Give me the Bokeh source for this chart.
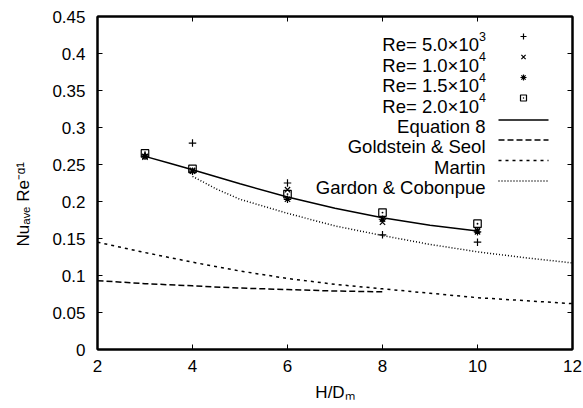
from bokeh.plotting import figure
from bokeh.models import Label, LinearAxis, FixedTicker, Range1d
from bokeh.embed import file_html
from bokeh.resources import INLINE

# ---------------- data ----------------
h_d = [3, 4, 6, 8, 10]
re_5000 = [0.263, 0.279, 0.225, 0.155, 0.145]
re_10000 = [0.260, 0.242, 0.216, 0.172, 0.161]
re_15000 = [0.261, 0.241, 0.203, 0.176, 0.159]
re_20000 = [0.265, 0.244, 0.210, 0.185, 0.170]

eq8_x = [3, 3.5, 4, 5, 6, 7, 8, 9, 10]
eq8_y = [0.261, 0.252, 0.243, 0.224, 0.206, 0.191, 0.178, 0.168, 0.160]

goldstein_x = [2, 3, 4, 5, 6, 7, 8]
goldstein_y = [0.093, 0.089, 0.086, 0.083, 0.081, 0.079, 0.078]

martin_x = [2, 3, 4, 5, 6, 7, 8, 9, 10, 11, 12]
martin_y = [0.145, 0.131, 0.118, 0.106, 0.096, 0.088, 0.082, 0.076, 0.070, 0.066, 0.062]

gardon_x = [4, 4.5, 5, 6, 7, 8, 9, 10, 11, 12]
gardon_y = [0.234, 0.217, 0.203, 0.184, 0.167, 0.154, 0.142, 0.132, 0.124, 0.117]

x_ticks = [2, 4, 6, 8, 10, 12]
y_ticks = [0, 0.05, 0.1, 0.15, 0.2, 0.25, 0.3, 0.35, 0.4, 0.45]
y_tick_labels = ["0", "0.05", "0.1", "0.15", "0.2", "0.25", "0.3", "0.35", "0.4", "0.45"]

marker_labels = ["Re= 5.0\u00d710", "Re= 1.0\u00d710", "Re= 1.5\u00d710", "Re= 2.0\u00d710"]
marker_sups = ["3", "4", "4", "4"]
line_labels = ["Equation 8", "Goldstein & Seol", "Martin", "Gardon & Cobonpue"]

x_title = "H/D\u2098"
y_title = "Nu\u2090\u1d65\u2091 Re\u207b\u1d45\u00b9"

FONT = "Liberation Sans"

# ---------------- layout (page pixels) ----------------
W, H = 583, 408
FL, FR, FT, FB = 97, 572, 16, 349
X0, X1, Y0, Y1 = 2, 12, 0, 0.45


def dx(px):
    return X0 + (px - FL) * (X1 - X0) / (FR - FL)


def dy(py):
    return Y0 + (FB - py) * (Y1 - Y0) / (FB - FT)


def sx(px):
    return px - FL


def sy(py):
    return FB - py


p = figure(width=W, height=H, x_range=Range1d(X0, X1), y_range=Range1d(Y0, Y1),
           output_backend="svg", toolbar_location=None,
           min_border_left=FL, min_border_right=W - FR,
           min_border_top=FT, min_border_bottom=H - FB)
p.xgrid.visible = False
p.ygrid.visible = False
p.background_fill_color = "white"
p.border_fill_color = "white"
p.outline_line_color = "black"
p.outline_line_width = 2

for ax in (p.xaxis[0], p.yaxis[0]):
    ax.major_tick_in = 5
    ax.major_tick_out = 0
    ax.minor_tick_in = 0
    ax.minor_tick_out = 0
    ax.axis_line_width = 2
    ax.major_tick_line_width = 1
    ax.major_label_text_font = FONT
    ax.major_label_text_font_size = "17px"
    ax.major_label_text_color = "black"
    ax.axis_label_text_font = FONT
    ax.axis_label_text_font_size = "17px"
    ax.axis_label_text_font_style = "normal"
    ax.axis_label_text_color = "black"

p.xaxis[0].ticker = FixedTicker(ticks=x_ticks)
p.yaxis[0].ticker = FixedTicker(ticks=y_ticks)
p.yaxis[0].major_label_overrides = {t: l for t, l in zip(y_ticks, y_tick_labels)}
p.xaxis[0].major_label_standoff = 10
p.yaxis[0].major_label_standoff = 12

p.xaxis[0].axis_label = x_title
p.xaxis[0].axis_label_standoff = 8
# trailing no-break spaces move the centred title down along the axis
p.yaxis[0].axis_label = y_title + "\u00a0" * 9
p.yaxis[0].axis_label_standoff = 16

for loc, ticks in (("above", x_ticks), ("right", y_ticks)):
    ax = LinearAxis(ticker=FixedTicker(ticks=ticks),
                    major_label_overrides={t: "" for t in ticks},
                    major_label_text_font_size="1px",
                    major_label_standoff=0, major_tick_in=5, major_tick_out=0,
                    minor_tick_in=0, minor_tick_out=0, axis_line_width=2)
    p.add_layout(ax, loc)

# ---------------- curves ----------------
p.line(eq8_x, eq8_y, line_color="black", line_width=1.5)
p.line(goldstein_x, goldstein_y, line_color="black", line_width=1.5, line_dash="6 3")
p.line(martin_x, martin_y, line_color="black", line_width=1.5, line_dash="3 4")
p.line(gardon_x, gardon_y, line_color="black", line_width=1.5, line_dash="1 2")

# ---------------- points ----------------
markers = ["cross", "x", "asterisk", "square_dot"]
series = [re_5000, re_10000, re_15000, re_20000]
for m, s in zip(markers, series):
    p.scatter(h_d, s, marker=m, size=7.5, line_color="black", fill_color=None, line_width=1.2)

# ---------------- legend ----------------
baselines = [44, 64.5, 85, 105.5, 126, 146, 166.5, 187]
text_right = 485
mk_x = 523
ln_x0, ln_x1 = 498, 548
for i, (lab, sup, m) in enumerate(zip(marker_labels, marker_sups, markers)):
    yb = baselines[i]
    p.add_layout(Label(x=sx(text_right - 6.5), y=sy(yb), x_units="screen", y_units="screen",
                       text=lab, text_font=FONT, text_font_size="18.5px", text_color="black",
                       text_align="right", text_baseline="alphabetic"))
    p.add_layout(Label(x=sx(text_right - 6.5), y=sy(yb - 8.5), x_units="screen", y_units="screen",
                       text=sup, text_font=FONT, text_font_size="12.5px", text_color="black",
                       text_align="left", text_baseline="alphabetic"))
    p.scatter([dx(mk_x)], [dy(yb - 8)], marker=m, size=6, line_color="black",
              fill_color=None, line_width=1.2)

dashes = ["solid", "6 3", "3 4", "1 2"]
for j, (lab, dsh) in enumerate(zip(line_labels, dashes)):
    yb = baselines[j + 4]
    p.add_layout(Label(x=sx(text_right), y=sy(yb), x_units="screen", y_units="screen",
                       text=lab, text_font=FONT, text_font_size="18.5px", text_color="black",
                       text_align="right", text_baseline="alphabetic"))
    p.line([dx(ln_x0), dx(ln_x1)], [dy(yb - 6.5), dy(yb - 6.5)], line_color="black",
           line_width=1.5, line_dash=dsh)

open("out.html", "w").write(file_html(p, INLINE))
